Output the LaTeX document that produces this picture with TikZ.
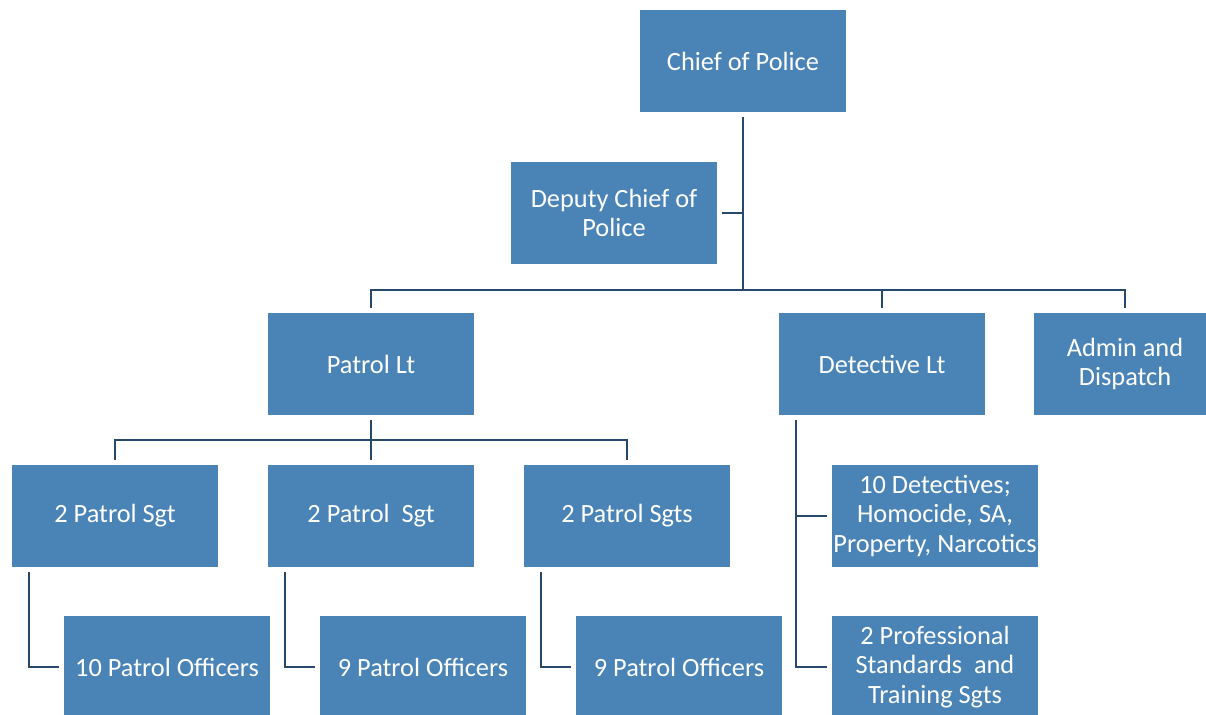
\documentclass[tikz,border=0pt]{standalone}
\usepackage{fontspec}
\setmainfont{Carlito}
\usetikzlibrary{positioning}
\definecolor{boxblue}{RGB}{74,132,183}
\definecolor{linkblue}{RGB}{38,72,106}
\tikzset {
  % org chart box
  unit/.style = {
    rectangle,
    fill = boxblue,
    text = white,
    align = center,
    minimum width = 4.12cm,
    minimum height = 2.04cm,
    inner sep = 0,
    outer sep = 0.1cm,
    font = \fontsize{15}{17}\selectfont
  },
  % connector
  link/.style = {
    draw = linkblue,
    line width = 1.1pt
  }
}
\begin{document}
\begin{tikzpicture}[x=0.02cm, y=-0.02cm]
    \clip (0,0) rectangle (1206,715);
    \useasboundingbox (0,0) rectangle (1206,715);

    \node[unit] (chief) at (743,61) {Chief of Police};
    \node[unit] (deputy) at (614,213) {Deputy Chief of\\Police};
    \coordinate (hub) at (743,290);

    \node[unit] (patrollt) at (371,364) {Patrol Lt};
    \node[unit] (detlt) at (882,364) {Detective Lt};
    \node[unit, minimum width=3.64cm] (admin) at (1125,364) {Admin and\\Dispatch};
    \coordinate (pbar) at (371,440);

    \node[unit] (sgt1) at (115,516) {2 Patrol Sgt};
    \node[unit] (sgt2) at (371,516) {2 Patrol \ Sgt};
    \node[unit] (sgt3) at (627,516) {2 Patrol Sgts};
    \node[unit] (off1) at (167,667) {10 Patrol Officers};
    \node[unit] (off2) at (423,667) {9 Patrol Officers};
    \node[unit] (off3) at (679,667) {9 Patrol Officers};

    \node[unit] (det10) at (935,516) {10 Detectives;\\Homocide, SA,\\Property, Narcotics};
    \node[unit] (prof) at (935,667) {2 Professional\\Standards \ and\\Training Sgts};
    \coordinate (detspine) at ([xshift=0.44cm]detlt.south west);

    \draw[link] (chief.south) -- (hub);
    \draw[link] (deputy.east) -- (deputy.east -| hub);
    \draw[link] (patrollt.north) -- (patrollt.north |- hub) -- (admin.north |- hub) -- (admin.north);
    \draw[link] (detlt.north) -- (detlt.north |- hub);

    \draw[link] (patrollt.south) -- (pbar);
    \draw[link] (sgt1.north) |- (pbar) -| (sgt3.north);
    \draw[link] (sgt2.north) -- (pbar);
    \foreach \s/\o in {sgt1/off1, sgt2/off2, sgt3/off3}
      \draw[link] ([xshift=0.44cm]\s.south west) |- (\o.west);

    \draw[link] (detspine) |- (prof.west);
    \draw[link] (det10.west) -- (det10.west -| detspine);
  \end{tikzpicture}
\end{document}
